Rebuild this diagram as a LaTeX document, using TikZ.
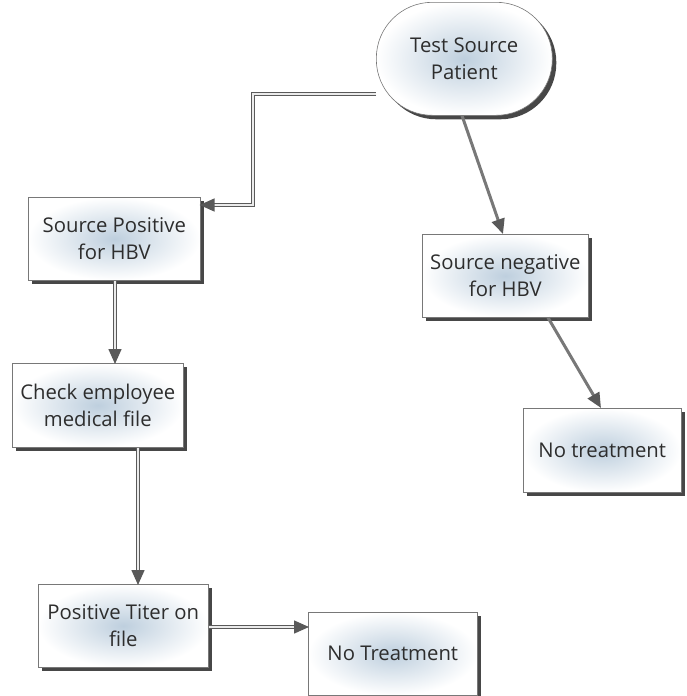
\documentclass[tikz,border=0pt]{standalone}
\usepackage{fontspec}
\setmainfont{Open Sans}
\usetikzlibrary{shadows,arrows.meta,calc}
\definecolor{glow}{RGB}{190,207,222}
\definecolor{edge}{RGB}{120,120,120}
\definecolor{ink}{RGB}{45,45,45}
\begin{document}
\begin{tikzpicture}[x=1pt,y=-1pt,
  boxbase/.style={draw=edge, line width=0.6pt, inner color=glow, outer color=white,
    drop shadow={shadow xshift=4pt, shadow yshift=-4pt, fill=black!80, opacity=0.9},
    font=\fontsize{20.3}{27}\selectfont, text=ink, align=center, inner sep=0pt},
  flowbox/.style={boxbase, rectangle, anchor=north west},
  startbox/.style={boxbase, rounded corners=56pt, anchor=north west},
  link/.style={draw=edge!75!black, line width=1.5pt, double=white!85!edge, double distance=1.2pt,
    -{Triangle[length=15pt,width=13pt,fill=black!65,color=black!65]}, shorten >=-1pt},
  solidlink/.style={draw=edge, line width=3pt,
    -{Triangle[length=15pt,width=13pt,fill=black!65,color=black!65]}},
]
\useasboundingbox (0,0) rectangle (686,696);

% boxes
\node[startbox, minimum width=176pt, minimum height=113pt] (test) at (376,2) {Test Source\\Patient};
\node[flowbox, minimum width=172pt, minimum height=83pt] (pos) at (28,197) {Source Positive\\for HBV};
\node[flowbox, minimum width=166pt, minimum height=83pt] (neg) at (422,234) {Source negative\\for HBV};
\node[flowbox, minimum width=158pt, minimum height=84pt] (notreat) at (523,408) {No treatment};
\node[flowbox, minimum width=171pt, minimum height=84pt] (check) at (12,363) {Check employee\\medical file};
\node[flowbox, minimum width=170pt, minimum height=83pt] (titer) at (38,584) {Positive Titer on\\file};
\node[flowbox, minimum width=169pt, minimum height=83pt] (noTreat) at (308,612) {No Treatment};

% connectors
\coordinate (bendA) at (253,94);
\coordinate (bendB) at (253,205);
\draw[link] (test.west |- bendA) -- (bendA) -- (bendB) -- (pos.east |- bendB);
\draw[solidlink] ($(test.south west)+(86,0)$) -- ($(neg.north west)+(81,0)$);
\draw[solidlink] ($(neg.south west)+(126,0)$) -- ($(notreat.north west)+(78,0)$);
\draw[link] ($(pos.south west)+(87,0)$) -- ($(check.north west)+(103,0)$);
\draw[link] ($(check.south west)+(126,0)$) -- ($(titer.north west)+(100,0)$);
\draw[link] (titer.east |- 0,627) -- (noTreat.west |- 0,627);
\end{tikzpicture}
\end{document}
